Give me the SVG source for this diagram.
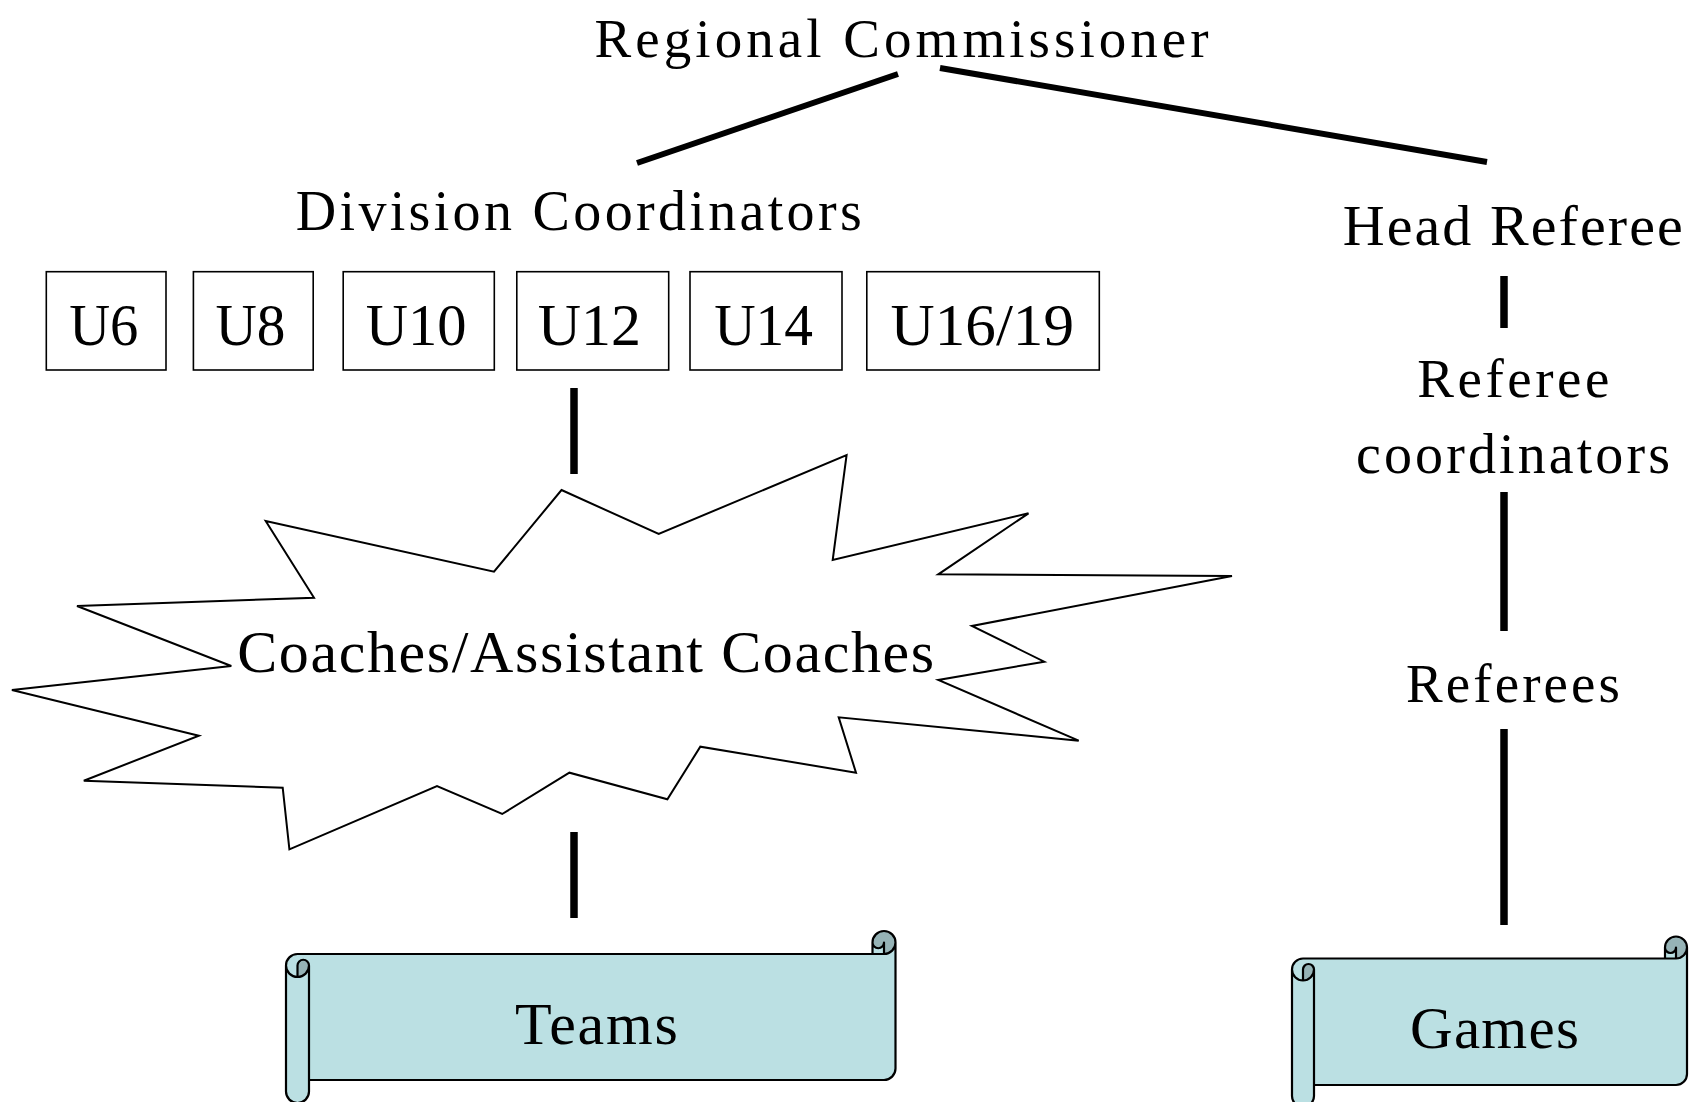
<svg xmlns="http://www.w3.org/2000/svg" width="1692" height="1102" viewBox="0 0 1692 1102">
  <style>
    text { font-family: "Liberation Serif", "Times New Roman", serif; fill: #000; }
    .conn { stroke: #000; stroke-width: 6; fill: none; }
    .vconn { stroke: #000; stroke-width: 7.5; fill: none; }
    .box { fill: #fff; stroke: #000; stroke-width: 1.6; }
    .burst { fill: #fff; stroke: #000; stroke-width: 2; stroke-linejoin: miter; }
    .paper { fill: #BBE0E3; stroke: none; }
    .roll { fill: #96B3B6; stroke: none; }
    .edge { fill: none; stroke: #000; stroke-width: 2.2; stroke-linejoin: round; }
  </style>

  <!-- connectors -->
  <g id="connectors">
    <line class="conn" x1="637" y1="163" x2="898" y2="74"/>
    <line class="conn" x1="940" y1="68" x2="1487" y2="162"/>
    <line class="vconn" x1="574" y1="388" x2="574" y2="474"/>
    <line class="vconn" x1="574" y1="832" x2="574" y2="918"/>
    <line class="vconn" x1="1504" y1="276" x2="1504" y2="328"/>
    <line class="vconn" x1="1504" y1="492" x2="1504" y2="631"/>
    <line class="vconn" x1="1504" y1="729" x2="1504" y2="925"/>
  </g>

  <g id="regional-commissioner">
    <text x="594.6" y="57" font-size="55" textLength="614" lengthAdjust="spacing">Regional Commissioner</text>
  </g>

  <g id="division-coordinators">
    <text x="295.7" y="230" font-size="56" textLength="566" lengthAdjust="spacing">Division Coordinators</text>
  </g>

  <g id="div-u6">
    <rect class="box" x="46.3" y="271.7" width="119.7" height="98.3"/>
    <text x="69.2" y="345" font-size="60" textLength="69.2" lengthAdjust="spacingAndGlyphs">U6</text>
  </g>
  <g id="div-u8">
    <rect class="box" x="193.4" y="271.7" width="119.8" height="98.3"/>
    <text x="215.5" y="345" font-size="60" textLength="70" lengthAdjust="spacingAndGlyphs">U8</text>
  </g>
  <g id="div-u10">
    <rect class="box" x="343.2" y="271.7" width="151.1" height="98.3"/>
    <text x="365.8" y="345" font-size="60" textLength="100.8" lengthAdjust="spacingAndGlyphs">U10</text>
  </g>
  <g id="div-u12">
    <rect class="box" x="516.8" y="271.7" width="151.9" height="98.3"/>
    <text x="537.8" y="345" font-size="60" textLength="103.2" lengthAdjust="spacingAndGlyphs">U12</text>
  </g>
  <g id="div-u14">
    <rect class="box" x="690" y="271.7" width="152" height="98.3"/>
    <text x="714.2" y="345" font-size="60" textLength="98.8" lengthAdjust="spacingAndGlyphs">U14</text>
  </g>
  <g id="div-u16-19">
    <rect class="box" x="866.8" y="271.7" width="232.5" height="98.3"/>
    <text x="890.6" y="345" font-size="60" textLength="183.4" lengthAdjust="spacingAndGlyphs">U16/19</text>
  </g>

  <g id="coaches">
    <polygon class="burst" points="561.5,490 658.7,534 846.6,455 832.7,560 1028.5,513.3 938.3,574.3 1232,576 971.9,626 1044.3,661.7 938.3,680 1078.7,740.7 838.7,717.3 856,772.7 700.3,746.7 667.4,799.3 569.4,772.7 502.2,814 437,786 289.4,849.3 282.7,787.7 83.8,780.7 198.9,735.7 11.9,690 231.3,666 77,606 314,597.7 265.7,521 494,571.7"/>
    <text x="237.2" y="672.3" font-size="60" textLength="697" lengthAdjust="spacing">Coaches/Assistant Coaches</text>
  </g>

  <!-- horizontal scroll: L=286 T=931 R=895.5 B=1103, curl size 23 -->
  <g id="teams">
    <path class="paper" d="M895.5,942.5 A11.5,11.5 0 0 1 884,954 L297.5,954 A11.5,11.5 0 0 0 286,965.5 L286,1091.5 A11.5,11.5 0 0 0 309,1091.5 L309,1080 L884,1080 A11.5,11.5 0 0 0 895.5,1068.5 Z"/>
    <circle class="paper" cx="884" cy="942.5" r="11.5"/>
    <rect class="paper" x="872.5" y="942.5" width="11.5" height="11.5"/>
    <path class="roll" d="M884,954 A11.5,11.5 0 0 0 895.5,942.5 A11.5,11.5 0 0 0 872.5,942.5 A5.75,5.75 0 0 0 884,942.5 Z"/>
    <path class="roll" d="M297.5,977 A11.5,11.5 0 0 0 309,965.5 A5.75,5.75 0 0 0 297.5,965.5 Z"/>
    <path class="edge" d="M286,965.5 A11.5,11.5 0 0 1 297.5,954 L872.5,954 L872.5,942.5 A11.5,11.5 0 0 1 895.5,942.5 L895.5,1068.5 A11.5,11.5 0 0 1 884,1080 L309,1080 L309,1091.5 A11.5,11.5 0 0 1 286,1091.5 Z M872.5,954 L884,954 A11.5,11.5 0 0 0 895.5,942.5 M884,954 L884,942.5 A5.75,5.75 0 0 1 872.5,942.5 M297.5,977 L297.5,965.5 A5.75,5.75 0 0 1 309,965.5 A11.5,11.5 0 0 1 286,965.5 M309,965.5 L309,1080"/>
    <text x="514.9" y="1044" font-size="60" textLength="163" lengthAdjust="spacing">Teams</text>
  </g>

  <g id="head-referee">
    <text x="1342.7" y="245" font-size="58" textLength="340" lengthAdjust="spacing">Head Referee</text>
  </g>

  <g id="referee-coordinators">
    <text x="1417.3" y="397" font-size="55" textLength="192" lengthAdjust="spacing">Referee</text>
    <text x="1356" y="473.3" font-size="56" textLength="314" lengthAdjust="spacing">coordinators</text>
  </g>

  <g id="referees">
    <text x="1406" y="701.7" font-size="55" textLength="214" lengthAdjust="spacing">Referees</text>
  </g>

  <!-- horizontal scroll: L=1292 T=936.5 R=1687 B=1107, curl size 22 -->
  <g id="games">
    <path class="paper" d="M1687,947.5 A11,11 0 0 1 1676,958.5 L1303,958.5 A11,11 0 0 0 1292,969.5 L1292,1096 A11,11 0 0 0 1314,1096 L1314,1085 L1676,1085 A11,11 0 0 0 1687,1074 Z"/>
    <circle class="paper" cx="1676" cy="947.5" r="11"/>
    <rect class="paper" x="1665" y="947.5" width="11" height="11"/>
    <path class="roll" d="M1676,958.5 A11,11 0 0 0 1687,947.5 A11,11 0 0 0 1665,947.5 A5.5,5.5 0 0 0 1676,947.5 Z"/>
    <path class="roll" d="M1303,980.5 A11,11 0 0 0 1314,969.5 A5.5,5.5 0 0 0 1303,969.5 Z"/>
    <path class="edge" d="M1292,969.5 A11,11 0 0 1 1303,958.5 L1665,958.5 L1665,947.5 A11,11 0 0 1 1687,947.5 L1687,1074 A11,11 0 0 1 1676,1085 L1314,1085 L1314,1096 A11,11 0 0 1 1292,1096 Z M1665,958.5 L1676,958.5 A11,11 0 0 0 1687,947.5 M1676,958.5 L1676,947.5 A5.5,5.5 0 0 1 1665,947.5 M1303,980.5 L1303,969.5 A5.5,5.5 0 0 1 1314,969.5 A11,11 0 0 1 1292,969.5 M1314,969.5 L1314,1085"/>
    <text x="1410" y="1048.3" font-size="59" textLength="169" lengthAdjust="spacing">Games</text>
  </g>
</svg>
